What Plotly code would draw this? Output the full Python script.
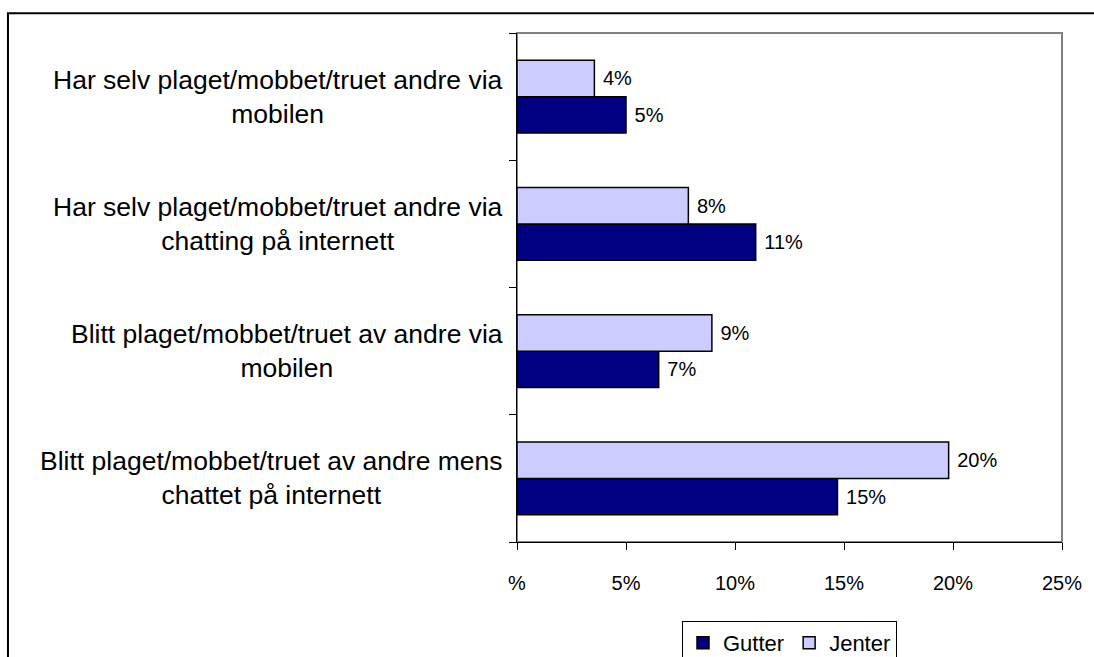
import plotly.graph_objects as go

# categories listed bottom -> top (plotly category order)
categories = [
    "Blitt plaget/mobbet/truet av andre mens<br>chattet på internett",
    "Blitt plaget/mobbet/truet av andre via<br>mobilen",
    "Har selv plaget/mobbet/truet andre via<br>chatting på internett",
    "Har selv plaget/mobbet/truet andre via<br>mobilen",
]
gutter = [14.7, 6.5, 10.95, 5.0]
jenter = [19.8, 8.94, 7.86, 3.55]
x_ticks = [0, 5, 10, 15, 20, 25]
x_tick_labels = ["%", "5%", "10%", "15%", "20%", "25%"]

FONT = "Liberation Sans, Arial, sans-serif"

fig = go.Figure()
fig.add_trace(go.Bar(y=categories, x=gutter, name="Gutter", orientation="h",
                     marker=dict(color="#000080", line=dict(color="black", width=1.5)),
                     texttemplate=" %{x:.0f}%", textposition="outside",
                     textfont=dict(size=20, color="black"), cliponaxis=False))
fig.add_trace(go.Bar(y=categories, x=jenter, name="Jenter", orientation="h",
                     marker=dict(color="#CCCCFF", line=dict(color="black", width=1.5)),
                     texttemplate=" %{x:.0f}%", textposition="outside",
                     textfont=dict(size=20, color="black"), cliponaxis=False))

# category labels, centred lines, right edge next to the axis
for c in categories:
    fig.add_annotation(x=-0.022, y=c, xref="paper", yref="y", text=c,
                       xanchor="right", align="center", showarrow=False,
                       font=dict(size=26.5, color="black", family=FONT))

# grey plot-area frame and outer chart border
fig.add_shape(type="rect", xref="paper", yref="paper", x0=0, x1=1, y0=0, y1=1,
              line=dict(color="#808080", width=2), layer="below")
fig.add_shape(type="rect", xref="paper", yref="paper", x0=-0.934, x1=1.2,
              y0=-0.5, y1=1.039, line=dict(color="black", width=2), layer="below")

fig.update_layout(
    width=1094, height=657, autosize=False,
    margin=dict(l=517, r=32, t=33, b=115),
    paper_bgcolor="white", plot_bgcolor="white",
    font=dict(family=FONT, size=20, color="black"),
    barmode="group", bargap=0.43, bargroupgap=0,
    showlegend=True,
    legend=dict(orientation="h", xref="paper", x=0.5, xanchor="center",
                yref="container", y=0.055, yanchor="top",
                bordercolor="black", borderwidth=1, font=dict(size=22),
                traceorder="normal"),
    xaxis=dict(range=[0, 25], tickvals=x_ticks, ticktext=x_tick_labels,
               showgrid=False, zeroline=False, showline=True, linecolor="black",
               linewidth=1, ticks="outside", ticklen=7, tickcolor="black",
               tickfont=dict(size=20), ticklabelstandoff=16),
    yaxis=dict(showticklabels=False, showgrid=False, showline=True,
               linecolor="black", linewidth=1, ticks="outside", ticklen=7,
               tickcolor="black", tickson="boundaries"),
)

fig.write_html("out.html",
               config={"responsive": False, "displayModeBar": False},
               post_script="document.body.style.margin='0';document.body.style.overflow='hidden';")
